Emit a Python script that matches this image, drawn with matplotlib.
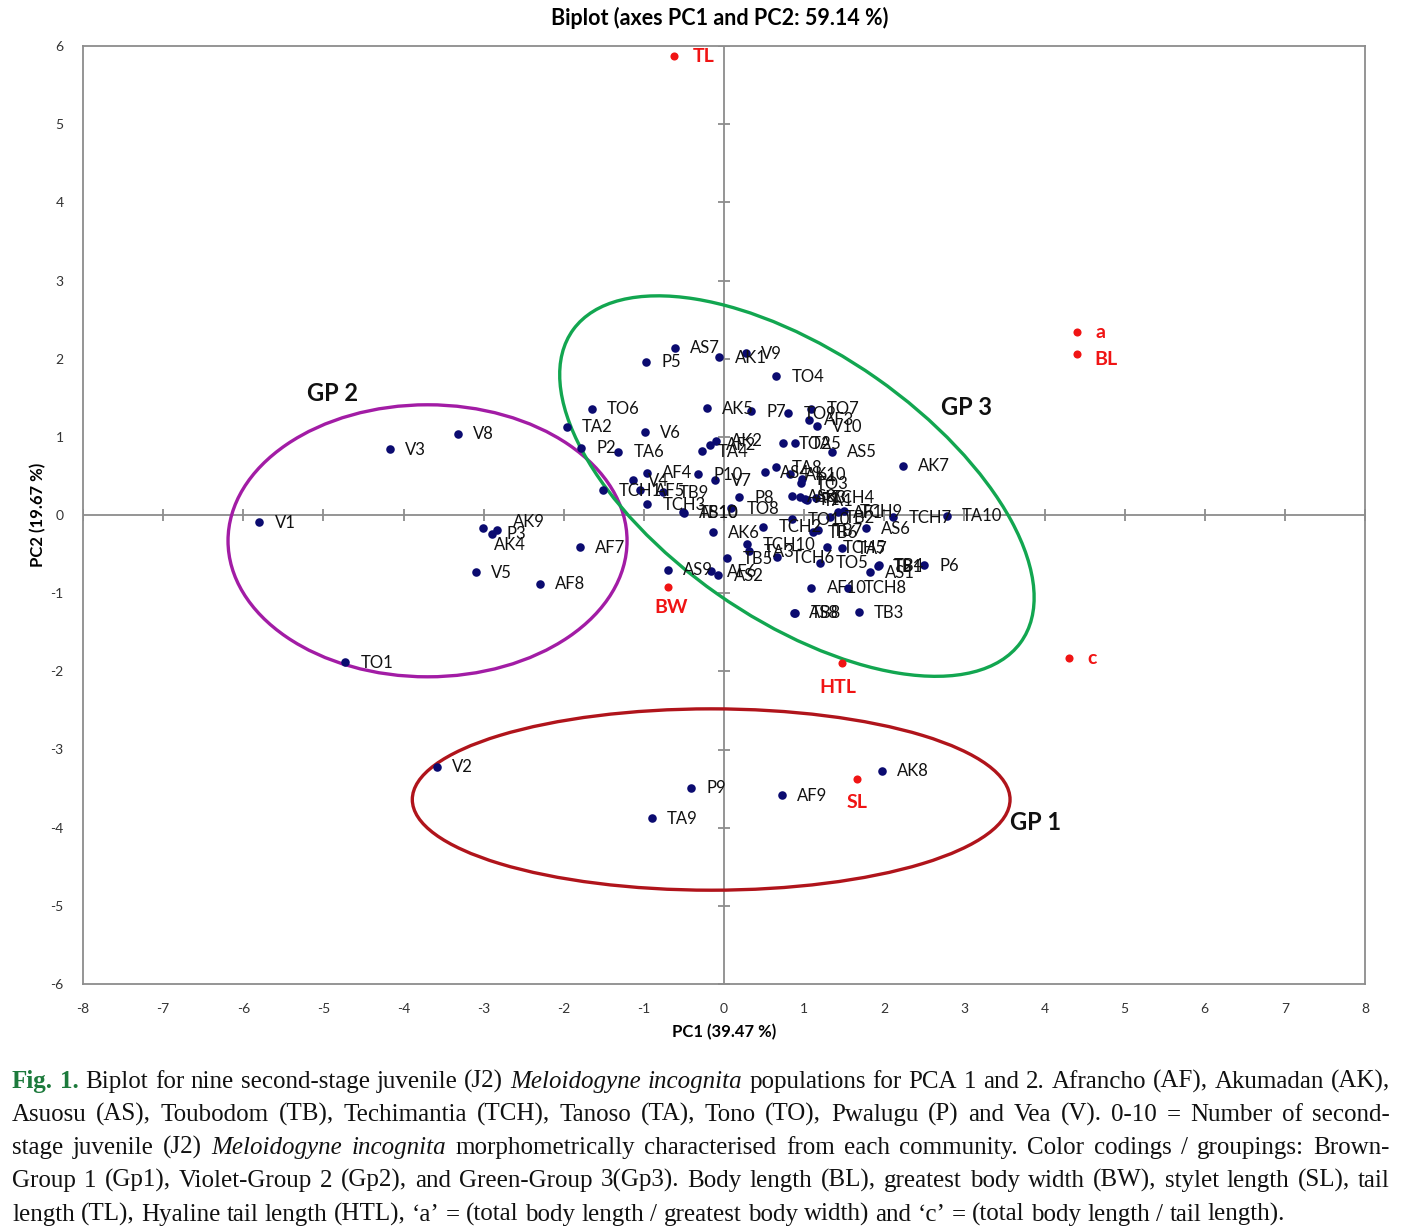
import numpy as np
import matplotlib
matplotlib.use('Agg')
import matplotlib.pyplot as plt
from matplotlib.patches import Ellipse

# ======================================================
# DATA
# ======================================================
obs_names = ['V1', 'V3', 'V8', 'AK9', 'P3', 'AK4', 'V5', 'AF8', 'TO1', 'AF7',
             'P2', 'TA2', 'TO6', 'TCH1', 'AS7', 'P5', 'AK1', 'V9', 'TO4', 'AK5',
             'P7', 'TO9', 'TO7', 'AF3', 'V10', 'V6', 'TA6', 'TA4', 'AF2', 'AK2',
             'TO2', 'TA5', 'AS5', 'AK7', 'AS4', 'TA8', 'AK10', 'P4', 'TO3', 'AS3',
             'AK3', 'P1', 'TA1', 'TCH4', 'AF4', 'V4', 'AF5', 'TB9', 'TCH3', 'P10',
             'V7', 'P8', 'TB10', 'AS10', 'TO8', 'AK6', 'TCH2', 'TO10', 'TB2', 'AF1',
             'TCH9', 'TCH7', 'TA10', 'TB6', 'TB7', 'AS6', 'TCH10', 'TA3', 'TB5', 'TCH6',
             'TCH5', 'TA7', 'TO5', 'TB1', 'TB4', 'AS1', 'P6', 'AF10', 'TCH8', 'AS8',
             'TB8', 'TB3', 'AS9', 'AF6', 'AS2', 'V2', 'P9', 'TA9', 'AF9', 'AK8']
obs_pc1 = [-5.80, -4.17, -3.32, -2.83, -2.90, -3.01, -3.10, -2.30, -4.73, -1.80,
           -1.78, -1.96, -1.65, -1.51, -0.61, -0.97, -0.06, 0.27, 0.65, -0.21,
           0.34, 0.80, 1.09, 1.06, 1.16, -0.99, -1.32, -0.27, -0.17, -0.10,
           0.74, 0.89, 1.35, 2.23, 0.51, 0.65, 0.82, 0.97, 0.96, 0.85,
           0.95, 1.01, 1.04, 1.15, -0.96, -1.14, -1.05, -0.76, -0.96, -0.32,
           -0.11, 0.19, -0.51, -0.50, 0.09, -0.14, 0.49, 0.85, 1.32, 1.42,
           1.50, 2.11, 2.78, 1.11, 1.17, 1.77, 0.29, 0.31, 0.04, 0.66,
           1.29, 1.47, 1.20, 1.92, 1.93, 1.82, 2.50, 1.09, 1.55, 0.87,
           0.89, 1.68, -0.70, -0.16, -0.07, -3.58, -0.41, -0.90, 0.72, 1.97]
obs_pc2 = [-0.09, 0.84, 1.04, -0.19, -0.24, -0.17, -0.73, -0.88, -1.88, -0.41,
           0.86, 1.13, 1.36, 0.32, 2.14, 1.96, 2.02, 2.07, 1.78, 1.37,
           1.33, 1.30, 1.36, 1.22, 1.14, 1.06, 0.81, 0.82, 0.90, 0.95,
           0.92, 0.92, 0.81, 0.63, 0.55, 0.61, 0.52, 0.46, 0.41, 0.24,
           0.23, 0.20, 0.19, 0.22, 0.54, 0.45, 0.32, 0.29, 0.14, 0.52,
           0.45, 0.23, 0.04, 0.03, 0.09, -0.22, -0.15, -0.05, -0.03, 0.04,
           0.05, -0.03, -0.01, -0.22, -0.19, -0.17, -0.37, -0.46, -0.55, -0.54,
           -0.41, -0.42, -0.61, -0.65, -0.64, -0.73, -0.64, -0.93, -0.93, -1.25,
           -1.25, -1.24, -0.70, -0.72, -0.77, -3.22, -3.49, -3.88, -3.58, -3.27]

var_names = ['TL', 'a', 'BL', 'BW', 'c', 'HTL', 'SL']
var_pc1 = [-0.62, 4.41, 4.41, -0.70, 4.31, 1.47, 1.66]
var_pc2 = [5.87, 2.34, 2.06, -0.92, -1.83, -1.89, -3.38]

group_names = ['GP 1', 'GP 2', 'GP 3']
group_cx = [-0.16, -3.70, 0.91]
group_cy = [-3.64, -0.33, 0.37]
group_w = [7.46, 4.98, 6.87]
group_h = [2.32, 3.48, 3.40]
group_angle = [0, 0, -35.7]
group_label_x = [3.89, -4.89, 3.03]
group_label_y = [-3.93, 1.55, 1.37]

caption_lines = [
    "Fig. 1. Biplot for nine second-stage juvenile (J2) Meloidogyne incognita populations for PCA 1 and 2. Afrancho (AF), Akumadan (AK),",
    "Asuosu (AS), Toubodom (TB), Techimantia (TCH), Tanoso (TA), Tono (TO), Pwalugu (P) and Vea (V). 0-10 = Number of second-",
    "stage juvenile (J2) Meloidogyne incognita morphometrically characterised from each community. Color codings / groupings: Brown-",
    "Group 1 (Gp1), Violet-Group 2 (Gp2), and Green-Group 3(Gp3). Body length (BL), greatest body width (BW), stylet length (SL), tail",
    "length (TL), Hyaline tail length (HTL), \u2018a\u2019 = (total body length / greatest body width) and \u2018c\u2019 = (total body length / tail length).",
]
italic_words = ['Meloidogyne', 'incognita']

# ======================================================
# STYLE
# ======================================================
plt.rcParams['font.family'] = ['Lato', 'DejaVu Sans']
plt.rcParams['axes.unicode_minus'] = False

axis_gray = '#8c8c8c'
navy = '#0b0b70'
red = '#f01414'
group_colors = ['#b0141b', '#a21ca5', '#12a650']
# label offsets (points)
obs_offset = (11, -0.5)
obs_offset_override = {'AK9': (11, 6), 'AK4': (8, -12)}
var_offsets = {'TL': (13, 0, 'left'), 'a': (13, 0, 'left'), 'BL': (12, -4, 'left'),
               'BW': (2, -15, 'center'), 'c': (13, 0, 'left'),
               'HTL': (-3, -18, 'center'), 'SL': (0, -17, 'center')}

W, H = 1407, 1230
fig = plt.figure(figsize=(W / 100, H / 100), dpi=100)
ax = fig.add_axes([83 / W, 1 - 984 / H, 1282 / W, 938 / H])
ax.set_xlim(-8, 8)
ax.set_ylim(-6, 6)

for s in ax.spines.values():
    s.set_color(axis_gray)
    s.set_linewidth(1.3)
xt = np.arange(-8, 9)
yt = np.arange(-6, 7)
ax.set_xticks(xt)
ax.set_yticks(yt)
ax.tick_params(length=0, labelsize=10, colors='#333333', pad=14)

# axes through the origin with cross ticks
ax.axhline(0, color=axis_gray, lw=1.3, zorder=1)
ax.axvline(0, color=axis_gray, lw=1.3, zorder=1)
ax.plot(xt, np.zeros_like(xt), ls='none', marker='|', ms=9, mew=1.3, color=axis_gray, zorder=1)
ax.plot(np.zeros_like(yt), yt, ls='none', marker='_', ms=9, mew=1.3, color=axis_gray, zorder=1)

# group ellipses
for i in range(len(group_names)):
    ax.add_patch(Ellipse((group_cx[i], group_cy[i]), group_w[i], group_h[i],
                         angle=group_angle[i], fill=False, ec=group_colors[i],
                         lw=2.4, zorder=2))
    ax.text(group_label_x[i], group_label_y[i], group_names[i], fontsize=17,
            fontweight='bold', ha='center', va='center', color='#111111')

# observations
ax.scatter(obs_pc1, obs_pc2, s=38, color=navy, zorder=3, linewidths=0)
for n, x, y in zip(obs_names, obs_pc1, obs_pc2):
    ax.annotate(n, (x, y), xytext=obs_offset_override.get(n, obs_offset),
                textcoords='offset points', ha='left', va='center', fontsize=12,
                color='#111111', zorder=4)

# variables
ax.scatter(var_pc1, var_pc2, s=34, color=red, zorder=3, linewidths=0)
for n, x, y in zip(var_names, var_pc1, var_pc2):
    dx, dy, ha = var_offsets[n]
    ax.annotate(n, (x, y), xytext=(dx, dy), textcoords='offset points',
                ha=ha, va='center', fontsize=14, fontweight='bold', color=red, zorder=4)

fig.text(720 / W, 1 - 18 / H, 'Biplot (axes PC1 and PC2: 59.14 %)', ha='center',
         va='center', fontsize=15.5, fontweight='bold')
fig.text(724 / W, 1 - 1032 / H, 'PC1 (39.47 %)', ha='center', va='center',
         fontsize=12, fontweight='bold')
fig.text(38 / W, 1 - 515 / H, 'PC2 (19.67 %)', ha='center', va='center',
         fontsize=12, fontweight='bold', rotation=90)

# caption, justified word by word (last line left aligned)
renderer = fig.canvas.get_renderer()
cap_left, cap_right = 12, 1390
baselines = [1088, 1121, 1154, 1187, 1221]
cap_size = 18
space_px = 0.25 * cap_size * 100 / 72
for i, (line, b) in enumerate(zip(caption_lines, baselines)):
    arts = []
    for j, w in enumerate(line.split(' ')):
        kw = dict(family='Liberation Serif', fontsize=cap_size, color='#111111')
        if i == 0 and j < 2:
            kw.update(fontweight='bold', color='#1d7a3c')
        if w in italic_words:
            kw.update(style='italic')
        arts.append(fig.text(0, 1 - b / H, w, va='baseline', ha='left', **kw))
    widths = [t.get_window_extent(renderer).width for t in arts]
    if i < len(caption_lines) - 1:
        gap = (cap_right - cap_left - sum(widths)) / (len(arts) - 1)
    else:
        gap = space_px
    x = cap_left
    for t, wd in zip(arts, widths):
        t.set_x(x / W)
        x += wd + gap

fig.savefig('out.png', dpi=100)
